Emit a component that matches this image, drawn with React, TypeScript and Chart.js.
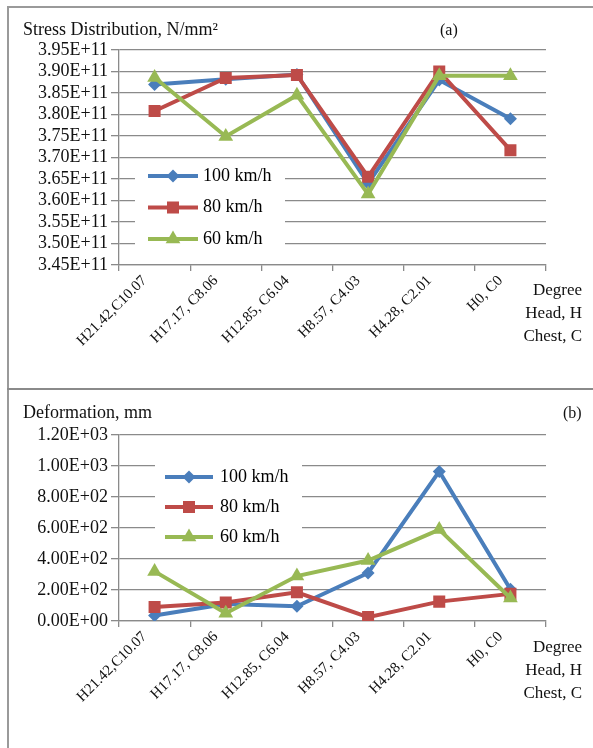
import React, { useEffect, useRef } from 'react';
import { Chart, registerables } from 'chart.js';

Chart.register(...registerables);

const categories = ['H21.42,C10.07', 'H17.17, C8.06', 'H12.85, C6.04', 'H8.57, C4.03', 'H4.28, C2.01', 'H0, C0'];
const seriesLabels = ['100 km/h', '80 km/h', '60 km/h'];

const stress100 = [3.87e11, 3.882e11, 3.893e11, 3.64e11, 3.88e11, 3.79e11];
const stress80 = [3.808e11, 3.885e11, 3.892e11, 3.655e11, 3.9e11, 3.717e11];
const stress60 = [3.886e11, 3.749e11, 3.845e11, 3.615e11, 3.89e11, 3.89e11];

const deform100 = [35, 110, 95, 310, 965, 205];
const deform80 = [90, 120, 185, 25, 125, 175];
const deform60 = [320, 50, 290, 390, 590, 148];

const stressTicks = { min: 3.45e11, max: 3.95e11, step: 5e9 };
const deformTicks = { min: 0, max: 1200, step: 200 };

const FONT = '"Liberation Serif", "Times New Roman", serif';
const GRID = '#8a8a8a';
const COLORS = ['#4A7EBB', '#BE4B48', '#98B954'];
const STYLES = ['rectRot', 'rect', 'triangle'];
const RADII = [6.5, 8.5, 8.5];
const ORDERS = [2, 1, 0];

function sci(v: number): string {
  if (Math.abs(v) < 1e-9) return '0.00E+00';
  const e = Math.floor(Math.log10(Math.abs(v)) + 1e-9);
  const m = v / Math.pow(10, e);
  const es = (e < 0 ? '-' : '+') + String(Math.abs(e)).padStart(2, '0');
  return m.toFixed(2) + 'E' + es;
}

function drawMarker(ctx: CanvasRenderingContext2D, style: string, r: number, x: number, y: number, color: string) {
  ctx.save();
  ctx.fillStyle = color;
  ctx.beginPath();
  if (style === 'rect') {
    const s = Math.SQRT1_2 * r;
    ctx.rect(x - s, y - s, 2 * s, 2 * s);
  } else if (style === 'rectRot') {
    ctx.moveTo(x - r, y);
    ctx.lineTo(x, y - r);
    ctx.lineTo(x + r, y);
    ctx.lineTo(x, y + r);
    ctx.closePath();
  } else {
    let a = 0;
    ctx.moveTo(x + Math.sin(a) * r, y - Math.cos(a) * r);
    a += (2 * Math.PI) / 3;
    ctx.lineTo(x + Math.sin(a) * r, y - Math.cos(a) * r);
    a += (2 * Math.PI) / 3;
    ctx.lineTo(x + Math.sin(a) * r, y - Math.cos(a) * r);
    ctx.closePath();
  }
  ctx.fill();
  ctx.restore();
}

const innerLegend = {
  id: 'innerLegend',
  beforeDatasetsDraw(chart: any, _args: any, opts: any) {
    const ctx = chart.ctx;
    ctx.save();
    ctx.fillStyle = '#ffffff';
    ctx.fillRect(opts.box[0], opts.box[1], opts.box[2], opts.box[3]);
    ctx.restore();
  },
  afterDatasetsDraw(chart: any, _args: any, opts: any) {
    const ctx = chart.ctx;
    chart.data.datasets.forEach((ds: any, i: number) => {
      const y = opts.y0 + i * opts.dy;
      ctx.save();
      ctx.strokeStyle = ds.borderColor;
      ctx.lineWidth = ds.borderWidth;
      ctx.beginPath();
      ctx.moveTo(opts.x0, y);
      ctx.lineTo(opts.x1, y);
      ctx.stroke();
      ctx.restore();
      drawMarker(ctx, ds.pointStyle, ds.pointRadius, (opts.x0 + opts.x1) / 2, y, ds.backgroundColor);
      ctx.save();
      ctx.fillStyle = '#000';
      ctx.font = `${opts.size}px ${FONT}`;
      ctx.textBaseline = 'middle';
      ctx.textAlign = 'left';
      ctx.fillText(ds.label, opts.tx, y);
      ctx.restore();
    });
  },
};

function makeConfig(values: number[][], t: { min: number; max: number; step: number }, padTop: number, xHeight: number, legend: any) {
  return {
    type: 'line' as const,
    data: {
      labels: categories,
      datasets: values.map((v, i) => ({
        label: seriesLabels[i],
        data: v,
        borderColor: COLORS[i],
        backgroundColor: COLORS[i],
        borderWidth: 4,
        pointStyle: STYLES[i],
        pointRadius: RADII[i],
        pointBorderWidth: 0,
        pointBackgroundColor: COLORS[i],
        tension: 0,
        order: ORDERS[i],
      })),
    },
    options: {
      responsive: false,
      animation: false as const,
      layout: { padding: { top: padTop, right: 47, left: 0, bottom: 0 } },
      plugins: {
        legend: { display: false },
        tooltip: { enabled: false },
        innerLegend: legend,
      },
      scales: {
        x: {
          type: 'category' as const,
          offset: true,
          afterFit: (s: any) => {
            s.height = xHeight;
          },
          grid: { offset: true, drawOnChartArea: false, drawTicks: true, tickLength: 6, color: GRID, lineWidth: 1.3 },
          border: { color: GRID, width: 1.3 },
          ticks: { maxRotation: 45, minRotation: 45, autoSkip: false, labelOffset: -10, color: '#111', padding: 1, font: { family: FONT, size: 15 } },
        },
        y: {
          min: t.min,
          max: t.max,
          afterFit: (s: any) => {
            s.width = 119;
          },
          grid: { color: GRID, lineWidth: 1.3, tickLength: 8 },
          border: { color: GRID, width: 1.3 },
          ticks: {
            stepSize: t.step,
            autoSkip: false,
            color: '#111',
            padding: 3,
            font: { family: FONT, size: 18 },
            callback: (v: any) => sci(Number(v)),
          },
        },
      },
    },
    plugins: [innerLegend],
  };
}

const txt = (left: number, top: number, text: string, size: number, extra: any = {}) => (
  <div style={{ position: 'absolute', left, top, fontSize: size, lineHeight: '22px', whiteSpace: 'nowrap', color: '#111', ...extra }}>{text}</div>
);

export default function App() {
  const refA = useRef<HTMLCanvasElement>(null);
  const refB = useRef<HTMLCanvasElement>(null);

  useEffect(() => {
    const a = new Chart(
      refA.current as HTMLCanvasElement,
      makeConfig([stress100, stress80, stress60], stressTicks, 50, 124, {
        box: [135, 160, 150, 96],
        x0: 148,
        x1: 198,
        tx: 203,
        y0: 176,
        dy: 31.5,
        size: 18,
      }) as any
    );
    const b = new Chart(
      refB.current as HTMLCanvasElement,
      makeConfig([deform100, deform80, deform60], deformTicks, 46, 127, {
        box: [155, 66, 147, 96],
        x0: 165,
        x1: 213,
        tx: 220,
        y0: 88,
        dy: 30,
        size: 18,
      }) as any
    );
    return () => {
      a.destroy();
      b.destroy();
    };
  }, []);

  return (
    <div style={{ position: 'absolute', left: 0, top: 0, width: 593, height: 748, overflow: 'hidden', background: '#fff', fontFamily: FONT }}>
      <canvas ref={refA} width={593} height={389} style={{ position: 'absolute', left: 0, top: 0, width: 593, height: 389 }} />
      <canvas ref={refB} width={593} height={359} style={{ position: 'absolute', left: 0, top: 389, width: 593, height: 359 }} />
      <div style={{ position: 'absolute', left: 7, top: 6, width: 1.5, height: 760, background: '#9a9a9a' }} />
      <div style={{ position: 'absolute', left: 7, top: 6, width: 600, height: 1.5, background: '#9a9a9a' }} />
      <div style={{ position: 'absolute', left: 7, top: 388, width: 600, height: 2, background: '#8a8a8a' }} />
      {txt(23, 18, 'Stress Distribution, N/mm²', 18)}
      {txt(440, 19, '(a)', 16)}
      {txt(23, 401, 'Deformation, mm', 18)}
      {txt(563, 402, '(b)', 16)}
      {[0, 1].map((k) => {
        const base = k === 0 ? 279 : 636;
        return (
          <div key={k}>
            {txt(482, base, 'Degree', 17, { width: 100, textAlign: 'right' })}
            {txt(482, base + 23, 'Head, H', 17, { width: 100, textAlign: 'right' })}
            {txt(482, base + 46, 'Chest, C', 17, { width: 100, textAlign: 'right' })}
          </div>
        );
      })}
    </div>
  );
}
